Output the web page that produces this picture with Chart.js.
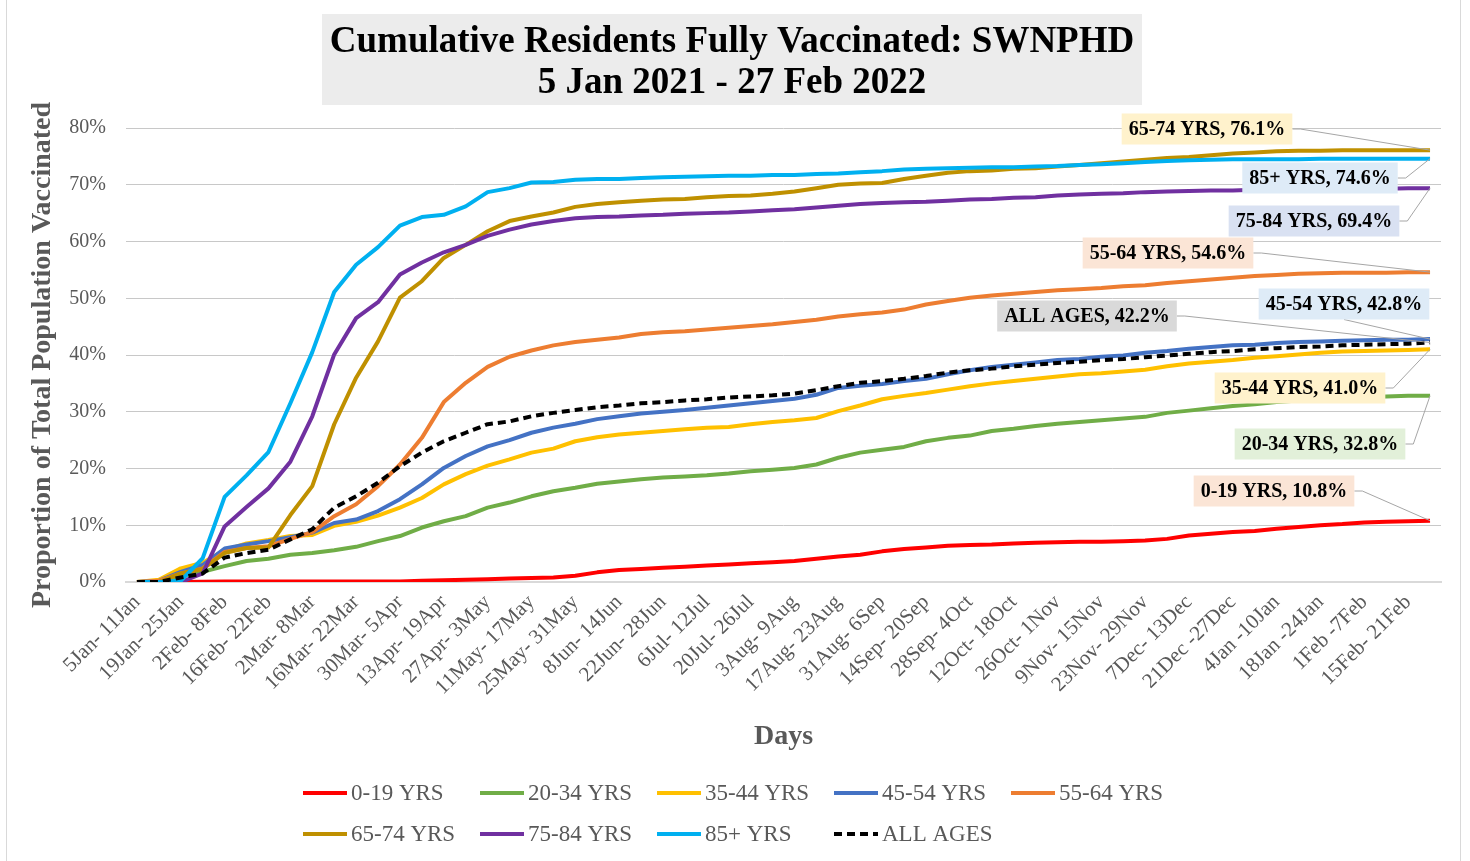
<!DOCTYPE html>
<html>
<head>
<meta charset="utf-8">
<title>Cumulative Residents Fully Vaccinated: SWNPHD</title>
<script src="https://cdn.jsdelivr.net/npm/chart.js@4/dist/chart.umd.min.js"></script>
<style>
  html, body { margin: 0; padding: 0; background: #fff; }
  #wrap { width: 1470px; height: 861px; }
</style>
</head>
<body>
<div id="wrap"><canvas id="chart0"></canvas></div>
<script>
// weekly periods, 5 Jan 2021 .. 27 Feb 2022 (only every other one is labelled on the axis)
const weeks = [
  '5Jan- 11Jan', '12Jan- 18Jan', '19Jan- 25Jan', '26Jan- 1Feb', '2Feb- 8Feb', '9Feb- 15Feb',
  '16Feb- 22Feb', '23Feb- 1Mar', '2Mar- 8Mar', '9Mar- 15Mar', '16Mar- 22Mar', '23Mar- 29Mar',
  '30Mar- 5Apr', '6Apr- 12Apr', '13Apr- 19Apr', '20Apr- 26Apr', '27Apr- 3May', '4May- 10May',
  '11May- 17May', '18May- 24May', '25May- 31May', '1Jun- 7Jun', '8Jun- 14Jun', '15Jun- 21Jun',
  '22Jun- 28Jun', '29Jun- 5Jul', '6Jul- 12Jul', '13Jul- 19Jul', '20Jul- 26Jul', '27Jul- 2Aug',
  '3Aug- 9Aug', '10Aug- 16Aug', '17Aug- 23Aug', '24Aug- 30Aug', '31Aug- 6Sep', '7Sep- 13Sep',
  '14Sep- 20Sep', '21Sep- 27Sep', '28Sep- 4Oct', '5Oct- 11Oct', '12Oct- 18Oct', '19Oct- 25Oct',
  '26Oct- 1Nov', '2Nov- 8Nov', '9Nov- 15Nov', '16Nov- 22Nov', '23Nov- 29Nov', '30Nov- 6Dec',
  '7Dec- 13Dec', '14Dec- 20Dec', '21Dec -27Dec', '28Dec -3Jan', '4Jan -10Jan', '11Jan -17Jan',
  '18Jan -24Jan', '25Jan -31Jan', '1Feb -7Feb', '8Feb -14Feb', '15Feb- 21Feb', '22Feb- 27Feb'
];

// % of residents fully vaccinated
const yrs0to19 = [
  0, 0, 0, 0.05, 0.1, 0.1, 0.1, 0.1, 0.1, 0.1,
  0.1, 0.1, 0.1, 0.2, 0.3, 0.4, 0.5, 0.6, 0.7, 0.8,
  1.1, 1.7, 2.1, 2.3, 2.5, 2.7, 2.9, 3.1, 3.3, 3.5,
  3.7, 4.1, 4.5, 4.8, 5.4, 5.8, 6.1, 6.4, 6.5, 6.6,
  6.8, 6.9, 7.0, 7.1, 7.1, 7.2, 7.3, 7.6, 8.2, 8.5,
  8.8, 9.0, 9.4, 9.7, 10.0, 10.2, 10.5, 10.6, 10.7, 10.8
];
const yrs20to34 = [
  0, 0.1, 1.1, 1.8, 2.8, 3.7, 4.1, 4.8, 5.1, 5.6,
  6.2, 7.2, 8.1, 9.6, 10.7, 11.6, 13.1, 14.0, 15.1, 16.0,
  16.6, 17.3, 17.7, 18.1, 18.4, 18.6, 18.8, 19.1, 19.5, 19.8,
  20.1, 20.7, 21.9, 22.8, 23.3, 23.8, 24.8, 25.4, 25.8, 26.6,
  27.0, 27.5, 27.9, 28.2, 28.5, 28.8, 29.1, 29.8, 30.2, 30.6,
  31.0, 31.3, 31.7, 32.0, 32.3, 32.5, 32.6, 32.7, 32.8, 32.8
];
const yrs35to44 = [
  0, 0.4, 2.4, 3.4, 5.6, 6.8, 7.4, 8.1, 8.3, 9.9,
  10.6, 11.7, 13.1, 14.8, 17.2, 19.0, 20.5, 21.6, 22.8, 23.5,
  24.8, 25.5, 26.0, 26.3, 26.6, 26.9, 27.2, 27.3, 27.8, 28.2,
  28.5, 28.9, 30.1, 31.1, 32.2, 32.8, 33.3, 33.9, 34.5, 35.0,
  35.4, 35.8, 36.2, 36.6, 36.8, 37.1, 37.4, 38.0, 38.5, 38.8,
  39.1, 39.5, 39.8, 40.1, 40.4, 40.6, 40.7, 40.8, 40.9, 41.0
];
const yrs45to54 = [
  0, 0.2, 1.8, 3.0, 5.9, 6.6, 7.2, 7.9, 8.7, 10.4,
  11.0, 12.5, 14.6, 17.2, 20.1, 22.2, 23.9, 25.0, 26.3, 27.2,
  27.9, 28.7, 29.2, 29.7, 30.0, 30.3, 30.7, 31.1, 31.5, 31.9,
  32.3, 33.0, 34.2, 34.6, 34.9, 35.4, 35.8, 36.6, 37.3, 37.9,
  38.3, 38.7, 39.1, 39.3, 39.7, 39.9, 40.4, 40.7, 41.1, 41.4,
  41.7, 41.8, 42.1, 42.3, 42.4, 42.5, 42.6, 42.7, 42.7, 42.8
];
const yrs55to64 = [
  0, 0.2, 1.5, 2.4, 5.3, 6.0, 6.3, 7.6, 8.8, 11.6,
  13.7, 16.9, 20.7, 25.4, 31.7, 35.1, 37.9, 39.7, 40.8, 41.7,
  42.3, 42.7, 43.1, 43.7, 44.0, 44.2, 44.5, 44.8, 45.1, 45.4,
  45.8, 46.2, 46.8, 47.2, 47.5, 48.0, 48.9, 49.5, 50.1, 50.5,
  50.8, 51.1, 51.4, 51.6, 51.8, 52.1, 52.3, 52.7, 53.0, 53.3,
  53.6, 53.9, 54.1, 54.3, 54.4, 54.5, 54.5, 54.5, 54.6, 54.6
];
const yrs65to74 = [
  0, 0, 1.5, 2.3, 5.1, 6.0, 6.1, 11.8, 16.9, 27.8,
  36.0, 42.4, 50.1, 53.0, 57.1, 59.4, 61.8, 63.6, 64.4, 65.1,
  66.1, 66.6, 66.9, 67.2, 67.4, 67.5, 67.8, 68.0, 68.1, 68.4,
  68.8, 69.4, 70.0, 70.2, 70.3, 71.0, 71.6, 72.1, 72.4, 72.5,
  72.8, 72.9, 73.2, 73.5, 73.8, 74.1, 74.4, 74.7, 74.9, 75.2,
  75.5, 75.7, 75.9, 76.0, 76.0, 76.1, 76.1, 76.1, 76.1, 76.1
];
const yrs75to84 = [
  0, 0, 0, 1.5, 9.8, 13.2, 16.5, 21.2, 29.2, 40.1,
  46.5, 49.3, 54.2, 56.3, 58.1, 59.4, 61.0, 62.1, 63.0, 63.6,
  64.1, 64.3, 64.4, 64.6, 64.7, 64.9, 65.0, 65.1, 65.3, 65.5,
  65.7, 66.0, 66.3, 66.6, 66.8, 66.9, 67.0, 67.2, 67.4, 67.5,
  67.7, 67.8, 68.1, 68.3, 68.4, 68.5, 68.7, 68.8, 68.9, 69.0,
  69.0, 69.1, 69.1, 69.1, 69.2, 69.2, 69.3, 69.3, 69.4, 69.4
];
const yrs85plus = [
  0, 0, 0.2, 4.2, 15.0, 18.8, 22.9, 31.5, 40.5, 51.1,
  55.9, 59.0, 62.8, 64.3, 64.7, 66.2, 68.7, 69.4, 70.4, 70.5,
  70.9, 71.0, 71.0, 71.2, 71.3, 71.4, 71.5, 71.6, 71.6, 71.7,
  71.7, 71.9, 72.0, 72.2, 72.4, 72.7, 72.8, 72.9, 73.0, 73.1,
  73.1, 73.2, 73.3, 73.5, 73.6, 73.8, 74.0, 74.2, 74.3, 74.4,
  74.5, 74.5, 74.5, 74.5, 74.6, 74.6, 74.6, 74.6, 74.6, 74.6
];
const allAges = [
  0, 0, 0.8, 1.5, 4.3, 5.1, 5.7, 7.5, 9.3, 13.1,
  15.1, 17.5, 20.4, 22.8, 24.8, 26.3, 27.8, 28.3, 29.2, 29.8,
  30.3, 30.8, 31.1, 31.5, 31.7, 32.0, 32.2, 32.5, 32.7, 32.9,
  33.2, 33.8, 34.5, 35.1, 35.4, 35.8, 36.3, 36.9, 37.3, 37.6,
  38.0, 38.3, 38.6, 38.8, 39.1, 39.3, 39.6, 39.9, 40.2, 40.5,
  40.7, 41.0, 41.2, 41.4, 41.5, 41.7, 41.8, 41.9, 42.0, 42.2
];

const seriesNames = ['0-19 YRS', '20-34 YRS', '35-44 YRS', '45-54 YRS', '55-64 YRS',
                     '65-74 YRS', '75-84 YRS', '85+ YRS', 'ALL AGES'];
const seriesData = [yrs0to19, yrs20to34, yrs35to44, yrs45to54, yrs55to64,
                    yrs65to74, yrs75to84, yrs85plus, allAges];
const seriesColors = ['#ff0000', '#70ad47', '#ffc000', '#4472c4', '#ed7d31',
                      '#bf9000', '#7030a0', '#00b0f0', '#000000'];
const yTicks = [0, 10, 20, 30, 40, 50, 60, 70, 80];

const titleLines = ['Cumulative Residents Fully Vaccinated: SWNPHD', '5 Jan 2021 - 27 Feb 2022'];

// end-of-line labels: box centre, box fill, and where the leader leaves the box
const callouts = [
  { cx: 1274, cy: 491, fill: '#fbe5d6', side: 'right' },
  { cx: 1320, cy: 444, fill: '#e2f0d9', side: 'right' },
  { cx: 1300, cy: 388, fill: '#fff2cc', side: 'right' },
  { cx: 1344, cy: 304, fill: '#deebf7', side: 'bottom' },
  { cx: 1168, cy: 253, fill: '#fbe5d6', side: 'right' },
  { cx: 1207, cy: 129, fill: '#fff2cc', side: 'right' },
  { cx: 1314, cy: 221, fill: '#d9e1f2', side: 'right' },
  { cx: 1320, cy: 178, fill: '#deebf7', side: 'right' },
  { cx: 1087, cy: 316, fill: '#d9d9d9', side: 'right' }
];

const SERIF = '"Liberation Serif", "Times New Roman", serif';

const frameAndTitle = {
  id: 'frameAndTitle',
  beforeDraw(chart) {
    const ctx = chart.ctx;
    ctx.save();
    ctx.fillStyle = '#ffffff';
    ctx.fillRect(0, 0, chart.width, chart.height);
    ctx.strokeStyle = '#d9d9d9';
    ctx.lineWidth = 1;
    ctx.strokeRect(6.5, -2, 1454, chart.height + 4);
    // title with its grey band
    ctx.fillStyle = '#ececec';
    ctx.fillRect(322, 14, 820, 91);
    ctx.fillStyle = '#000000';
    ctx.font = 'bold 37px ' + SERIF;
    ctx.textAlign = 'center';
    ctx.textBaseline = 'middle';
    ctx.fillText(titleLines[0], 732, 42);
    ctx.fillText(titleLines[1], 732, 83);
    ctx.restore();
  }
};

const endLabels = {
  id: 'endLabels',
  afterDatasetsDraw(chart) {
    const ctx = chart.ctx;
    ctx.save();
    ctx.font = 'bold 20px ' + SERIF;
    chart.data.datasets.forEach((ds, i) => {
      const meta = chart.getDatasetMeta(i);
      const pt = meta.data[meta.data.length - 1];
      const c = callouts[i];
      const text = ds.label + ', ' + ds.data[ds.data.length - 1].toFixed(1) + '%';
      const w = ctx.measureText(text).width + 14;
      const h = 31;
      const left = c.cx - w / 2, top = c.cy - h / 2;

      ctx.strokeStyle = '#a6a6a6';
      ctx.lineWidth = 1;
      ctx.beginPath();
      if (c.side === 'bottom') {
        ctx.moveTo(c.cx, top + h);
      } else {
        ctx.moveTo(left + w, c.cy);
        ctx.lineTo(left + w + 8, c.cy);
      }
      ctx.lineTo(pt.x, pt.y);
      ctx.stroke();

      ctx.fillStyle = c.fill;
      ctx.fillRect(left, top, w, h);
      ctx.fillStyle = '#000000';
      ctx.textAlign = 'center';
      ctx.textBaseline = 'middle';
      ctx.fillText(text, c.cx, c.cy + 1);
    });
    ctx.restore();
  }
};

const gridLegend = {
  id: 'gridLegend',
  afterDraw(chart) {
    const ctx = chart.ctx;
    ctx.save();
    ctx.font = '23px ' + SERIF;
    ctx.textBaseline = 'middle';
    ctx.textAlign = 'left';
    chart.data.datasets.forEach((ds, i) => {
      const x = 303 + (i % 5) * 177;
      const y = 793 + Math.floor(i / 5) * 41;
      ctx.strokeStyle = ds.borderColor;
      ctx.lineWidth = 4;
      ctx.setLineDash(ds.borderDash || []);
      ctx.beginPath();
      ctx.moveTo(x, y);
      ctx.lineTo(x + 44, y);
      ctx.stroke();
      ctx.setLineDash([]);
      ctx.fillStyle = '#595959';
      ctx.fillText(ds.label, x + 48, y + 1);
    });
    ctx.restore();
  }
};

const datasets = seriesNames.map((name, i) => ({
  label: name,
  data: seriesData[i],
  borderColor: seriesColors[i],
  backgroundColor: seriesColors[i],
  borderWidth: 4,
  borderDash: name === 'ALL AGES' ? [8, 5] : [],
  borderJoinStyle: 'round',
  pointRadius: 0,
  tension: 0,
  fill: false,
  order: seriesNames.length - 1 - i
}));

const ctx = document.getElementById('chart0').getContext('2d');
window.myChart = new Chart(ctx, {
  type: 'line',
  data: { labels: weeks, datasets: datasets },
  plugins: [frameAndTitle, endLabels, gridLegend],
  options: {
    responsive: true,
    maintainAspectRatio: false,
    animation: false,
    devicePixelRatio: 1,
    layout: { padding: { left: 22, right: 29, top: 128, bottom: 99 } },
    plugins: {
      legend: { display: false },
      title: { display: false },
      tooltip: { enabled: false }
    },
    scales: {
      x: {
        offset: true,
        afterFit: (scale) => { scale.height = 180; },
        grid: { display: false, drawTicks: false },
        border: { display: true, color: '#d9d9d9', width: 2 },
        ticks: {
          autoSkip: false,
          minRotation: 45,
          maxRotation: 45,
          padding: 8,
          color: '#595959',
          font: { family: SERIF, size: 21 },
          callback: function (value, index) {
            return index % 2 === 0 ? this.getLabelForValue(value) : '';
          }
        },
        title: {
          display: true,
          text: 'Days',
          color: '#595959',
          font: { family: SERIF, size: 28, weight: 'bold' },
          padding: { top: 0, bottom: 8 }
        }
      },
      y: {
        min: 0,
        max: 80,
        afterFit: (scale) => { scale.width = 104; },
        afterBuildTicks: (scale) => { scale.ticks = yTicks.map(v => ({ value: v })); },
        grid: { color: '#c8c8c8', lineWidth: 1, drawTicks: false },
        border: { display: false },
        ticks: {
          padding: 20,
          color: '#595959',
          font: { family: SERIF, size: 20 },
          callback: (v) => v + '%'
        },
        title: {
          display: true,
          text: 'Proportion of Total Population Vaccinated',
          color: '#595959',
          font: { family: SERIF, size: 28, weight: 'bold' },
          padding: 4
        }
      }
    }
  }
});
</script>
</body>
</html>
